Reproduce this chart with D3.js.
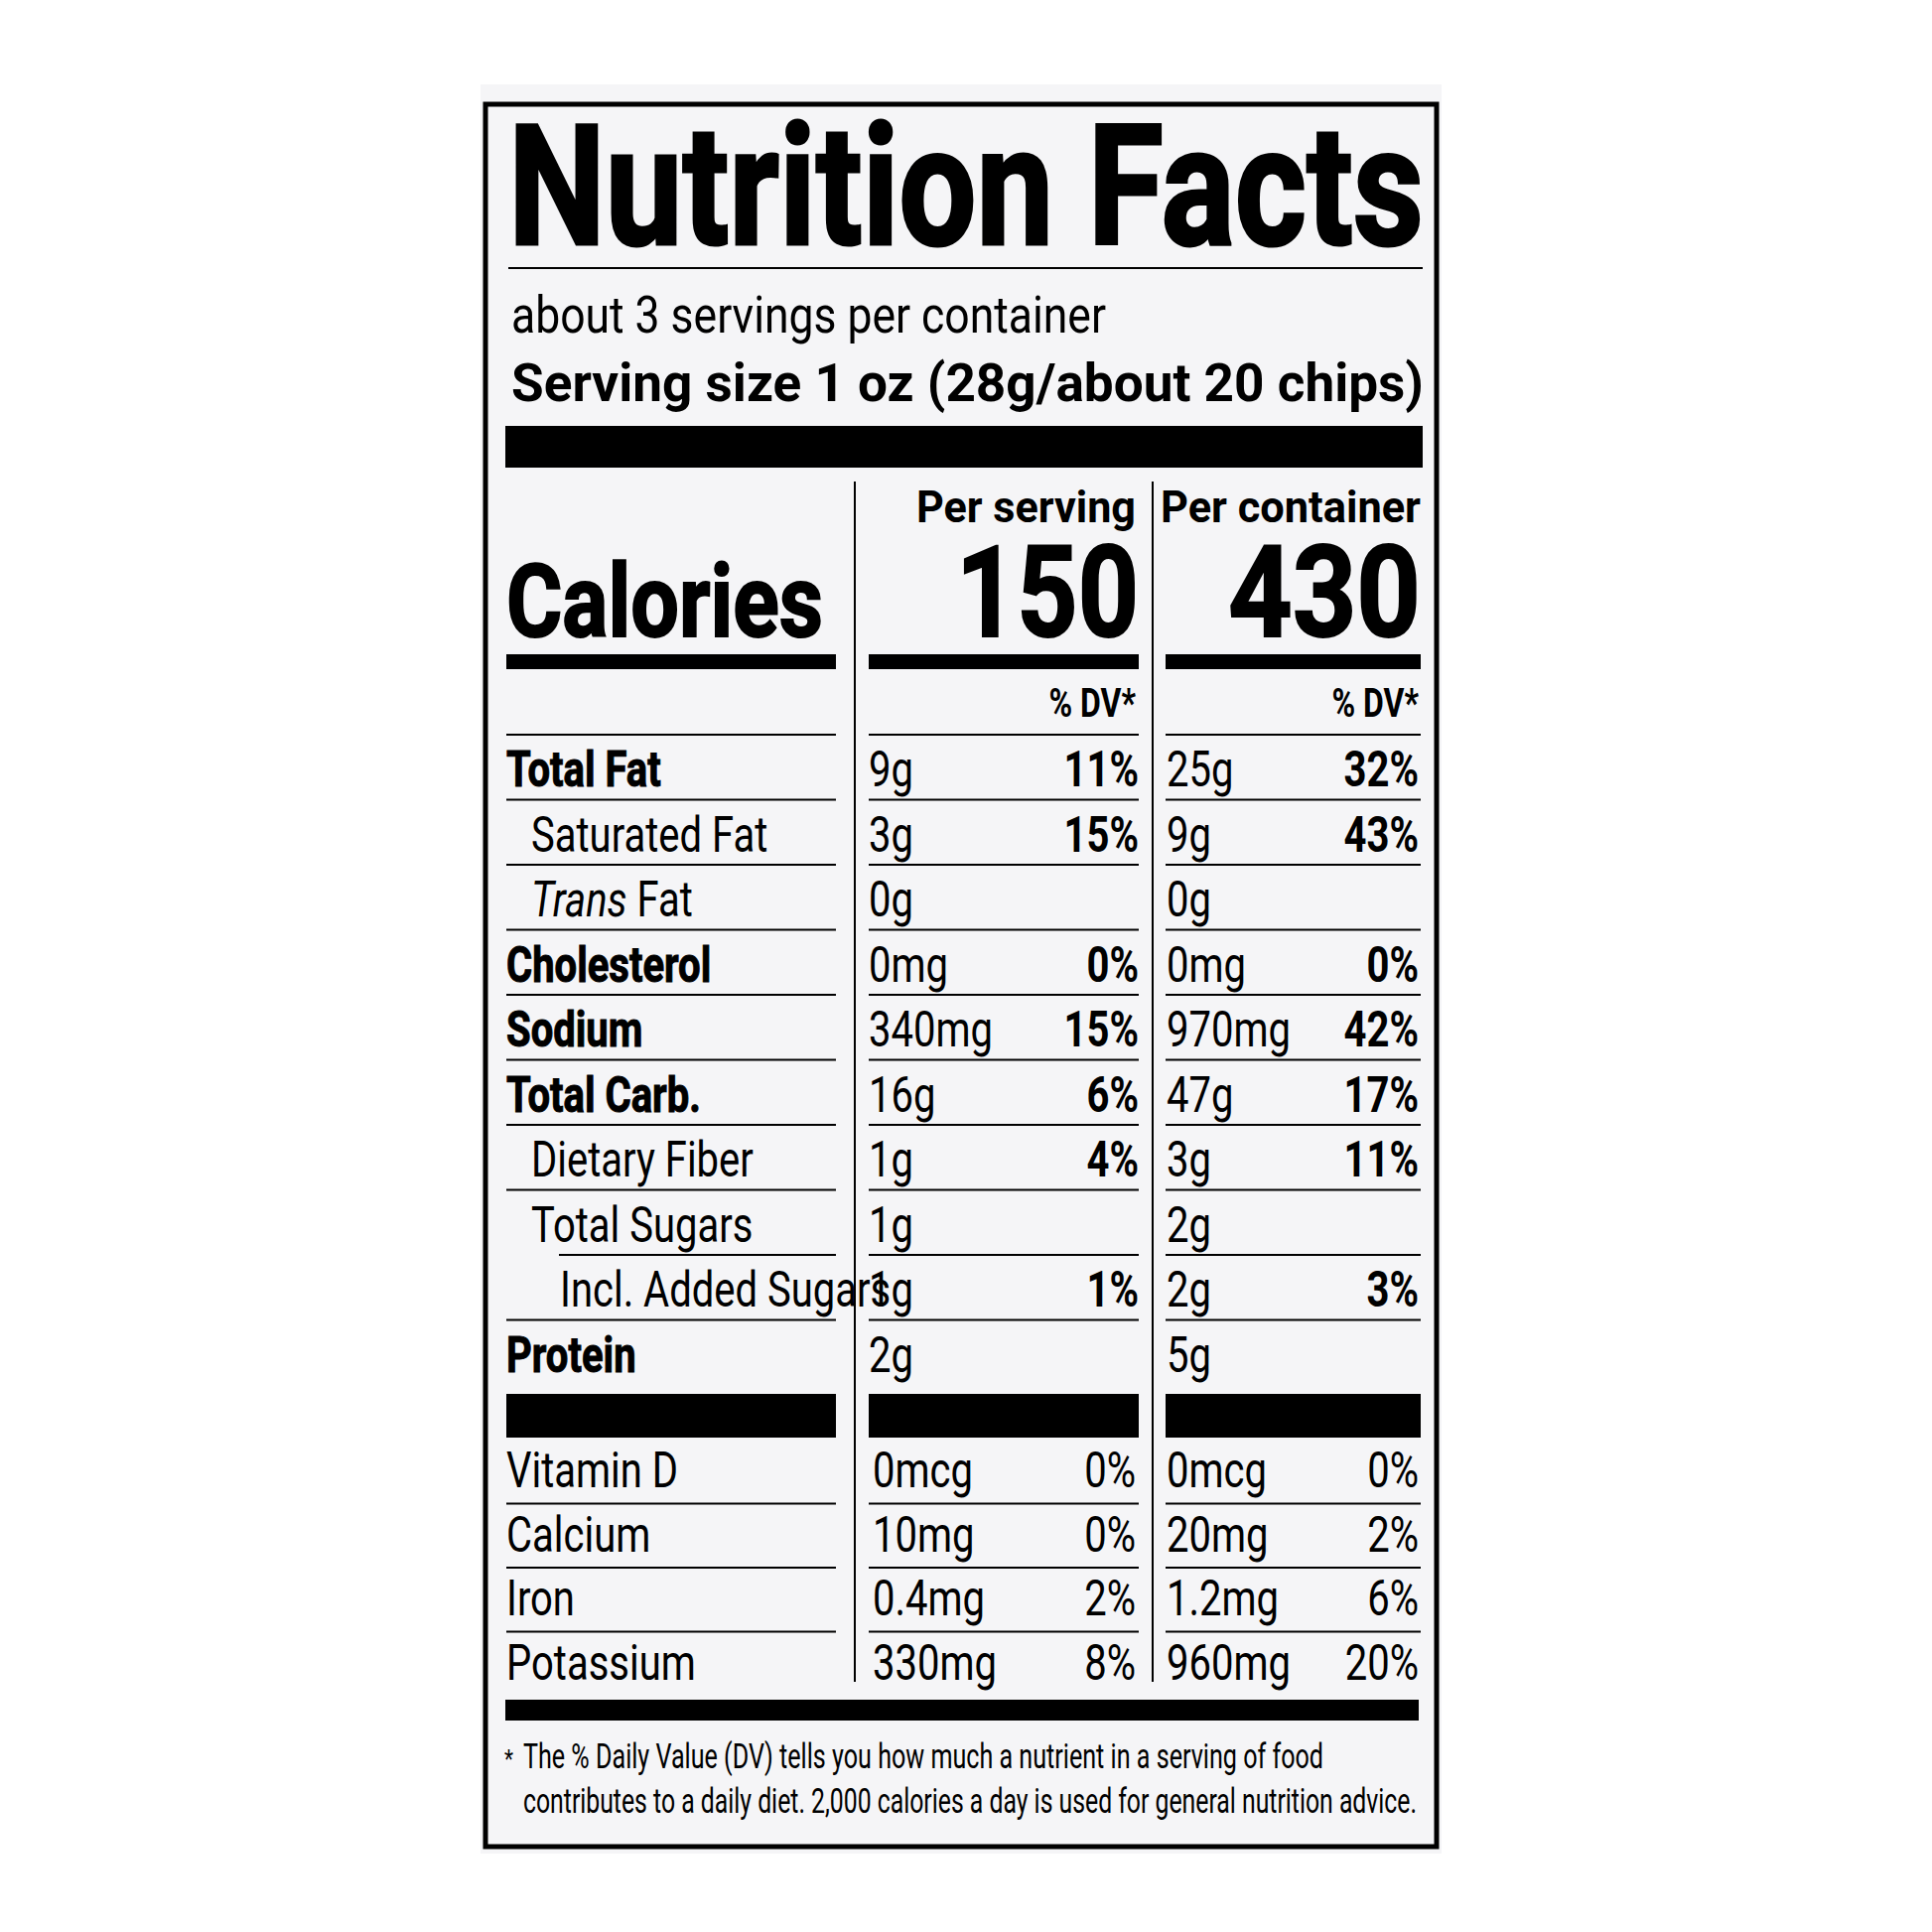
<!DOCTYPE html>
<html><head><meta charset="utf-8">
<script src="https://cdn.jsdelivr.net/npm/d3@7"></script>
<style>body{margin:0;background:#fff}svg text{font-family:"Liberation Sans Narrow","Arial Narrow","Roboto","Liberation Sans",sans-serif;fill:#000}</style>
</head><body><svg id="c" width="1946" height="1946"></svg>
<script>
const nutrients = ["Total Fat","Saturated Fat","Trans Fat","Cholesterol","Sodium","Total Carb.","Dietary Fiber","Total Sugars","Incl. Added Sugars","Protein"];
const bold = [1,0,0,1,1,1,0,0,0,1];
const indent = [0,1,1,0,0,0,1,1,2,0];
const servAmt = ["9g","3g","0g","0mg","340mg","16g","1g","1g","1g","2g"];
const servDV = ["11%","15%","","0%","15%","6%","4%","","1%",""];
const contAmt = ["25g","9g","0g","0mg","970mg","47g","3g","2g","2g","5g"];
const contDV = ["32%","43%","","0%","42%","17%","11%","","3%",""];
const vitamins = ["Vitamin  D","Calcium","Iron","Potassium"];
const vitServAmt = ["0mcg","10mg","0.4mg","330mg"];
const vitServDV = ["0%","0%","2%","8%"];
const vitContAmt = ["0mcg","20mg","1.2mg","960mg"];
const vitContDV = ["0%","2%","6%","20%"];
const calories = [150,430];

const svg = d3.select("#c");
svg.append("rect").attr("x",484).attr("y",85).attr("width",968).attr("height",1782).attr("fill","#f5f5f7");
svg.append("rect").attr("x",489).attr("y",105).attr("width",958).attr("height",1755).attr("fill","none").attr("stroke","#000").attr("stroke-width",5);
const K=0.8;
function T(x,y,s,size,o={}){const t=svg.append("text").attr("x",x).attr("y",y).attr("font-size",size).text(s);
 if(o.b)t.attr("font-weight","bold"); if(o.end)t.attr("text-anchor","end");
 if(o.w)t.attr("textLength",o.w).attr("lengthAdjust","spacingAndGlyphs");
 else if(s!==""){const n=t.node().getComputedTextLength(); if(n>0)t.attr("textLength",n*K).attr("lengthAdjust","spacingAndGlyphs");}
 return t;}
function L(x1,x2,y,w=2){svg.append("line").attr("x1",x1).attr("x2",x2).attr("y1",y).attr("y2",y).attr("stroke","#000").attr("stroke-width",w);}
function B(x1,x2,y1,y2){svg.append("rect").attr("x",x1).attr("y",y1).attr("width",x2-x1).attr("height",y2-y1).attr("fill","#000");}

T(512,246,"Nutrition Facts",168,{b:1,w:922}).attr("stroke","#000").attr("stroke-width",3);
L(512,1433,270,2);
T(515,335,"about 3 servings per container",52,{w:599});
T(515,404,"Serving size  1 oz (28g/about 20 chips)",54,{b:1,w:919});
B(509,1433,429,471);
const C1=[506,842], C2=[868,1147], C3=[1174,1431];
svg.append("line").attr("x1",861).attr("x2",861).attr("y1",485).attr("y2",1694).attr("stroke","#000").attr("stroke-width",2);
svg.append("line").attr("x1",1161).attr("x2",1161).attr("y1",485).attr("y2",1694).attr("stroke","#000").attr("stroke-width",2);
T(1144,526,"Per serving",44,{b:1,end:1,w:221});
T(1431,526,"Per container",44,{b:1,end:1,w:262});
T(510,641,"Calories",102,{b:1,w:319}).attr("stroke","#000").attr("stroke-width",2);
T(1147,641,calories[0],128,{b:1,end:1,w:184}).attr("stroke","#000").attr("stroke-width",2);
T(1431,641,calories[1],128,{b:1,end:1,w:194}).attr("stroke","#000").attr("stroke-width",2);
B(C1[0]+4,C1[1],659,674);B(C2[0]+7,C2[1],659,674);B(C3[0],C3[1],659,674);
T(1144,722,"% DV*",40,{b:1,end:1});T(1429,722,"% DV*",40,{b:1,end:1});

const y = d3.scaleLinear().domain([0,1]).range([740,805.5]);
nutrients.forEach((n,i)=>{
  const top=y(i), base=top+52;
  L(C1[0]+(i==8?57:4),C1[1],top); L(C2[0]+7,C2[1],top); L(C3[0],C3[1],top);
  const lx=510+[0,25,50][indent[i]]+(i==8?4:0);
  if(i==2){const t=svg.append("text").attr("x",lx).attr("y",base).attr("font-size",50);
    t.append("tspan").attr("font-style","italic").text("Trans");t.append("tspan").text(" Fat");
    const w=t.node().getComputedTextLength();t.attr("textLength",w*K).attr("lengthAdjust","spacingAndGlyphs");}
  else T(lx,base,n,50,{b:bold[i]}).attr("stroke",bold[i]?"#000":null).attr("stroke-width",bold[i]?1:0);
  T(875,base,servAmt[i],50);T(1175,base,contAmt[i],50);
  T(1147,base,servDV[i],50,{b:1,end:1});T(1429,base,contDV[i],50,{b:1,end:1});
});
B(C1[0]+4,C1[1],1404,1448);B(C2[0]+7,C2[1],1404,1448);B(C3[0],C3[1],1404,1448);
const vy=d3.scaleLinear().domain([0,1]).range([1498,1562.5]);
vitamins.forEach((v,i)=>{
  const b=vy(i);
  if(i>0){const ly=b-48; L(C1[0]+4,C1[1],ly);L(C2[0]+7,C2[1],ly);L(C3[0],C3[1],ly);}
  T(510,b,v,50);T(879,b,vitServAmt[i],50);T(1144,b,vitServDV[i],50,{end:1});
  T(1175,b,vitContAmt[i],50);T(1429,b,vitContDV[i],50,{end:1});
});
B(509,1429,1712,1733);
T(508,1781,"*",26);
T(527,1781,"The % Daily Value (DV) tells you how much a nutrient in a serving of food",35,{w:806});
T(527,1826,"contributes to a daily diet. 2,000 calories a day is used for general nutrition advice.",35,{w:900});
</script></body></html>
